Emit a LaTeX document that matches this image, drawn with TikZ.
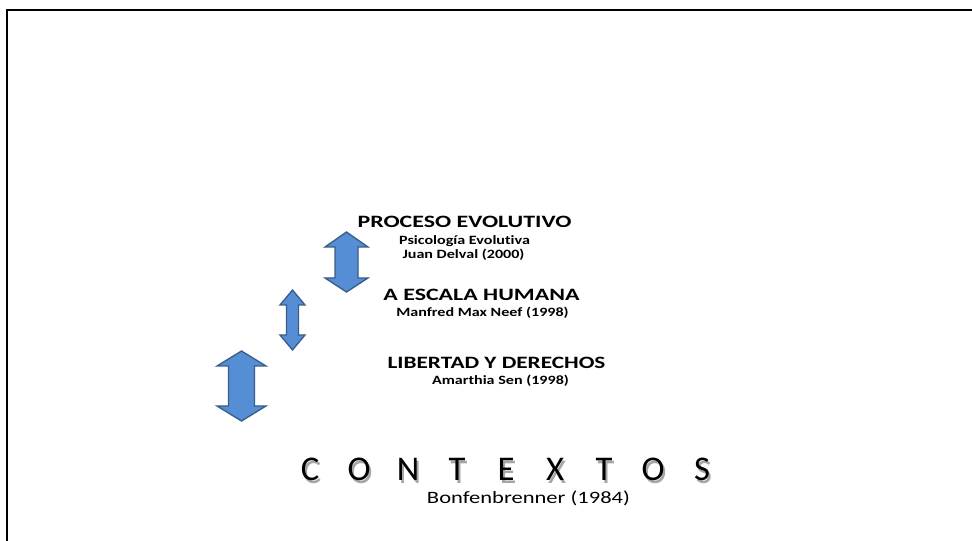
\documentclass[tikz,border=0pt]{standalone}
\usepackage{fontspec}
\setmainfont{Carlito}[Ligatures=NoCommon]
\newcommand\wideT[1]{\scalebox{1.38}[1]{#1}}
\newcommand\wideS[1]{\scalebox{1.27}[1]{#1}}
\newcommand\shch[1]{\makebox[0pt][l]{\hspace{1.5pt}\raisebox{-1.9pt}{\textcolor{black!35}{#1}}}#1}
\begin{document}
\begin{tikzpicture}[x=0.75pt,y=-0.75pt,
  arrowfill/.style={fill={rgb,255:red,85;green,142;blue,213},draw={rgb,255:red,56;green,93;blue,138},line width=1pt,line join=miter},
  title/.style={font=\bfseries\fontsize{13}{15}\selectfont,inner sep=0pt,anchor=center},
  sub/.style={font=\bfseries\fontsize{9.5}{11}\selectfont,inner sep=0pt,anchor=center},
  ctx/.style={font=\fontsize{26}{30}\selectfont,inner sep=0pt,anchor=center}
]
\useasboundingbox (0,0) rectangle (972,541);
\fill[white] (0,0) rectangle (972,541);
% frame (top and left edges)
\draw[line width=1.6pt] (7,541) -- (7,10) -- (972,10);
% double arrows: \dbl{cx}{halfhead}{halfshaft}{top}{base1}{base2}{bottom}
\newcommand\dbl[7]{%
  \path[arrowfill] (#1,#4) -- (#1+#2,#5) -- (#1+#3,#5) -- (#1+#3,#6) -- (#1+#2,#6)
    -- (#1,#7) -- (#1-#2,#6) -- (#1-#3,#6) -- (#1-#3,#5) -- (#1-#2,#5) -- cycle;}
\dbl{346.5}{21.5}{11.5}{232}{247}{278}{292}
\dbl{292.5}{12.5}{6}{290}{305}{335}{350}
\dbl{241.5}{24.5}{13}{351}{366}{406}{421}
% texts
\node[title] (p1) at (464.5,222) {\wideT{PROCESO EVOLUTIVO}};
\node[sub] (p2) at (464.5,241) {\wideS{Psicología Evolutiva}};
\node[sub] (p3) at (463.5,255) {\wideS{Juan Delval (2000)}};
\node[title] (h1) at (481.5,295) {\wideT{A ESCALA HUMANA}};
\node[sub] (h2) at (482.5,313) {\wideS{Manfred Max Neef (1998)}};
\node[title] (l1) at (496.5,363) {\scalebox{1.34}[1]{LIBERTAD Y DERECHOS}};
\node[sub] (l2) at (500.5,381) {\wideS{Amarthia Sen (1998)}};
% CONTEXTOS
\foreach \ch [count=\i from 0] in {C,O,N,T,E,X,T,O,S} {
  \node[ctx] (c\i) at (310+49*\i,471) {\shch{\ch}};
}
\node[font=\fontsize{13}{15}\selectfont,inner sep=0pt] (b) at (528.5,498) {\scalebox{1.3}[1]{Bonfenbrenner (1984)}};
\end{tikzpicture}
\end{document}
